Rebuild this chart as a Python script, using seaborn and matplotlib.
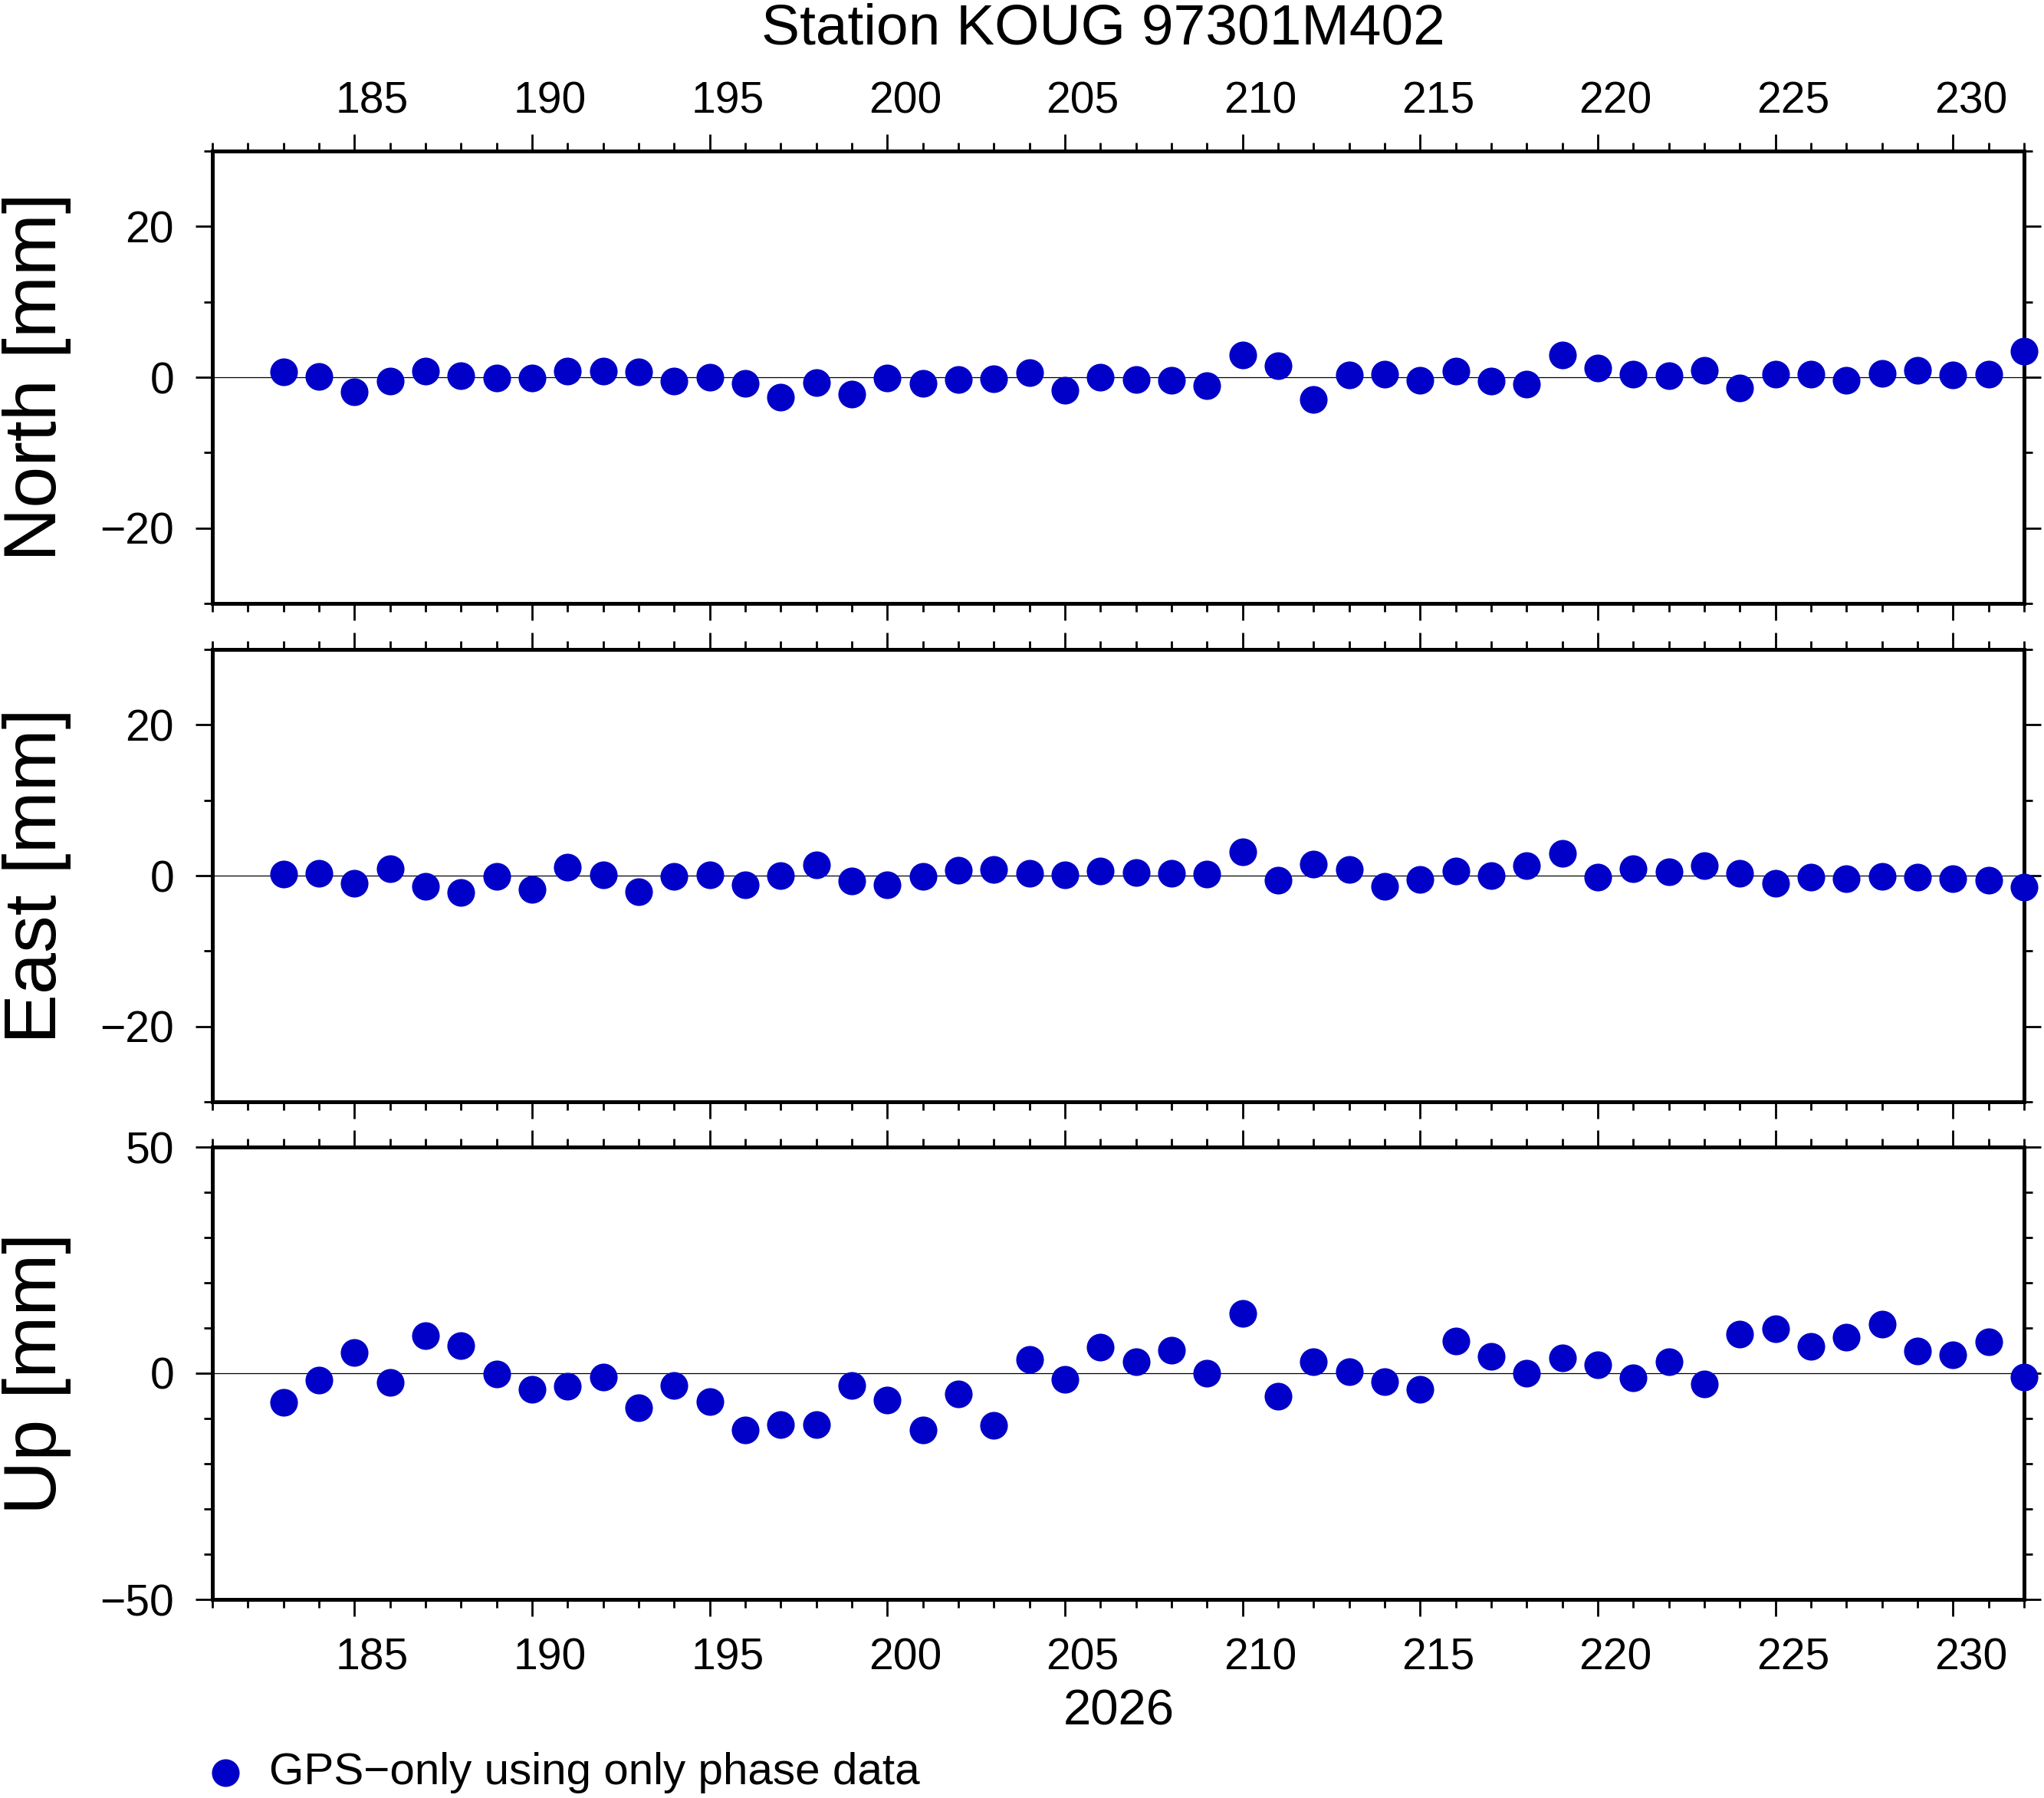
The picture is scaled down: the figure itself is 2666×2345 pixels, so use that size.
import numpy as np
import pandas as pd
import matplotlib
matplotlib.use("Agg")
import matplotlib.pyplot as plt
import matplotlib.transforms as mtransforms
import seaborn as sns

# daily solutions, day of year 2026
days = [183, 184, 185, 186, 187, 188, 189, 190, 191, 192,
        193, 194, 195, 196, 197, 198, 199, 200, 201, 202,
        203, 204, 205, 206, 207, 208, 209, 210, 211, 212,
        213, 214, 215, 216, 217, 218, 219, 220, 221, 222,
        223, 224, 225, 226, 227, 228, 229, 230, 231, 232]

north = [0.7, 0.1, -1.9, -0.5, 0.8, 0.2, -0.1, -0.1, 0.8, 0.8,
         0.7, -0.5, 0.0, -0.8, -2.6, -0.7, -2.2, -0.1, -0.8, -0.3,
         -0.2, 0.6, -1.7, 0.0, -0.3, -0.4, -1.1, 2.9, 1.5, -2.9,
         0.3, 0.4, -0.4, 0.8, -0.5, -0.9, 3.0, 1.2, 0.4, 0.2,
         0.9, -1.4, 0.4, 0.4, -0.4, 0.5, 0.9, 0.3, 0.4, 3.5]

east = [0.2, 0.3, -1.0, 0.9, -1.4, -2.2, -0.1, -1.8, 1.1, 0.1,
        -2.1, -0.1, 0.1, -1.2, 0.0, 1.4, -0.7, -1.2, -0.1, 0.7,
        0.8, 0.3, 0.1, 0.6, 0.4, 0.3, 0.2, 3.2, -0.6, 1.5,
        0.8, -1.4, -0.5, 0.6, 0.0, 1.3, 2.9, -0.2, 0.9, 0.5,
        1.3, 0.3, -1.0, -0.2, -0.4, -0.1, -0.2, -0.4, -0.6, -1.5]

up = [-6.5, -1.6, 4.5, -2.0, 8.3, 6.1, -0.2, -3.6, -2.9, -0.9,
      -7.6, -2.7, -6.2, -12.5, -11.4, -11.4, -2.7, -6.0, -12.6, -4.5,
      -11.6, 3.1, -1.3, 5.8, 2.5, 5.1, 0.0, 13.3, -5.0, 2.6,
      0.4, -1.8, -3.5, 7.2, 3.7, 0.0, 3.4, 1.8, -1.0, 2.5,
      -2.3, 8.6, 9.8, 6.0, 7.9, 10.9, 5.0, 4.1, 6.9, -0.9]

station = "Station KOUG 97301M402"
year_label = "2026"
legend_label = "GPS\u2212only using only phase data"
ylabels = ["North [mm]", "East [mm]", "Up [mm]"]

W, H = 2666, 2345
DOT = "#0000C8"

sns.set_style("ticks")
plt.rcParams["font.family"] = ["Liberation Sans", "DejaVu Sans"]
plt.rcParams["axes.unicode_minus"] = True
plt.rcParams["text.color"] = "black"
plt.rcParams["axes.labelcolor"] = "black"
plt.rcParams["xtick.color"] = "black"
plt.rcParams["ytick.color"] = "black"
plt.rcParams["axes.edgecolor"] = "black"

fig = plt.figure(figsize=(W / 100, H / 100), dpi=100)

# panel frames in pixels (top, bottom)
left_px, right_px = 277, 2640
frames = [(197, 787), (847, 1437), (1496, 2086)]
series = [north, east, up]
limits = [30, 30, 50]

# half a day shift for the day labels (GMT centres them in the interval)
day_px = (right_px - left_px) / (232 - 181)
shift = mtransforms.ScaledTranslation(0.5 * day_px / 100, 0, fig.dpi_scale_trans)

axes = []
for i, (top, bot) in enumerate(frames):
    ax = fig.add_axes([left_px / W, 1 - bot / H, (right_px - left_px) / W, (bot - top) / H])
    df = pd.DataFrame({"day": days, "value": series[i]})
    ax.axhline(0, color="black", lw=0.9, zorder=1)
    sns.scatterplot(data=df, x="day", y="value", ax=ax, color=DOT, s=676,
                    linewidth=0, clip_on=False, zorder=3, legend=False,
                    label=legend_label if i == 2 else None)

    lim = limits[i]
    ax.set_xlim(181, 232)
    ax.set_ylim(-lim, lim)
    ax.set_xticks(range(185, 231, 5))
    ax.set_xticks(range(181, 233), minor=True)
    if lim == 30:
        ax.set_yticks([-20, 0, 20])
        ax.set_yticks([-30, -10, 10, 30], minor=True)
    else:
        ax.set_yticks([-50, 0, 50])
        ax.set_yticks(range(-40, 50, 10), minor=True)

    ax.set_xlabel("")
    ax.set_ylabel("")
    ax.tick_params(which="both", direction="out", top=True, bottom=True,
                   left=True, right=True, width=2, color="black", labelcolor="black")
    ax.tick_params(which="major", length=16, labelsize=41)
    ax.tick_params(which="minor", length=8)
    ax.tick_params(axis="y", pad=20)
    ax.tick_params(axis="x", labeltop=(i == 0), labelbottom=(i == 2))
    for t in ax.xaxis.get_major_ticks():
        t.set_pad(20)
    for s in ax.spines.values():
        s.set_linewidth(3.6)
        s.set_color("black")

    for t in ax.xaxis.get_major_ticks():
        t.label1.set_transform(t.label1.get_transform() + shift)
        # top labels sit a little closer to the frame than bottom ones
        t.label2.set_transform(t.label2.get_transform() + shift +
                               mtransforms.ScaledTranslation(0, -0.12, fig.dpi_scale_trans))

    yc = 1 - (top + bot) / 2 / H
    fig.text(0.001, yc, ylabels[i], rotation=90, ha="left", va="center", fontsize=70)
    axes.append(ax)

fig.text(1439 / W, 1 - 58 / H, station, ha="center", va="baseline", fontsize=54)
fig.text(1459 / W, 1 - 2250 / H, year_label, ha="center", va="baseline", fontsize=47)

axes[2].legend(loc="center left", bbox_to_anchor=(276 / W, 1 - 2312 / H),
               bbox_transform=fig.transFigure, frameon=False, fontsize=42,
               handlelength=0.6, handletextpad=0.69, borderpad=0, borderaxespad=0)

fig.savefig("out.png", dpi=100)
